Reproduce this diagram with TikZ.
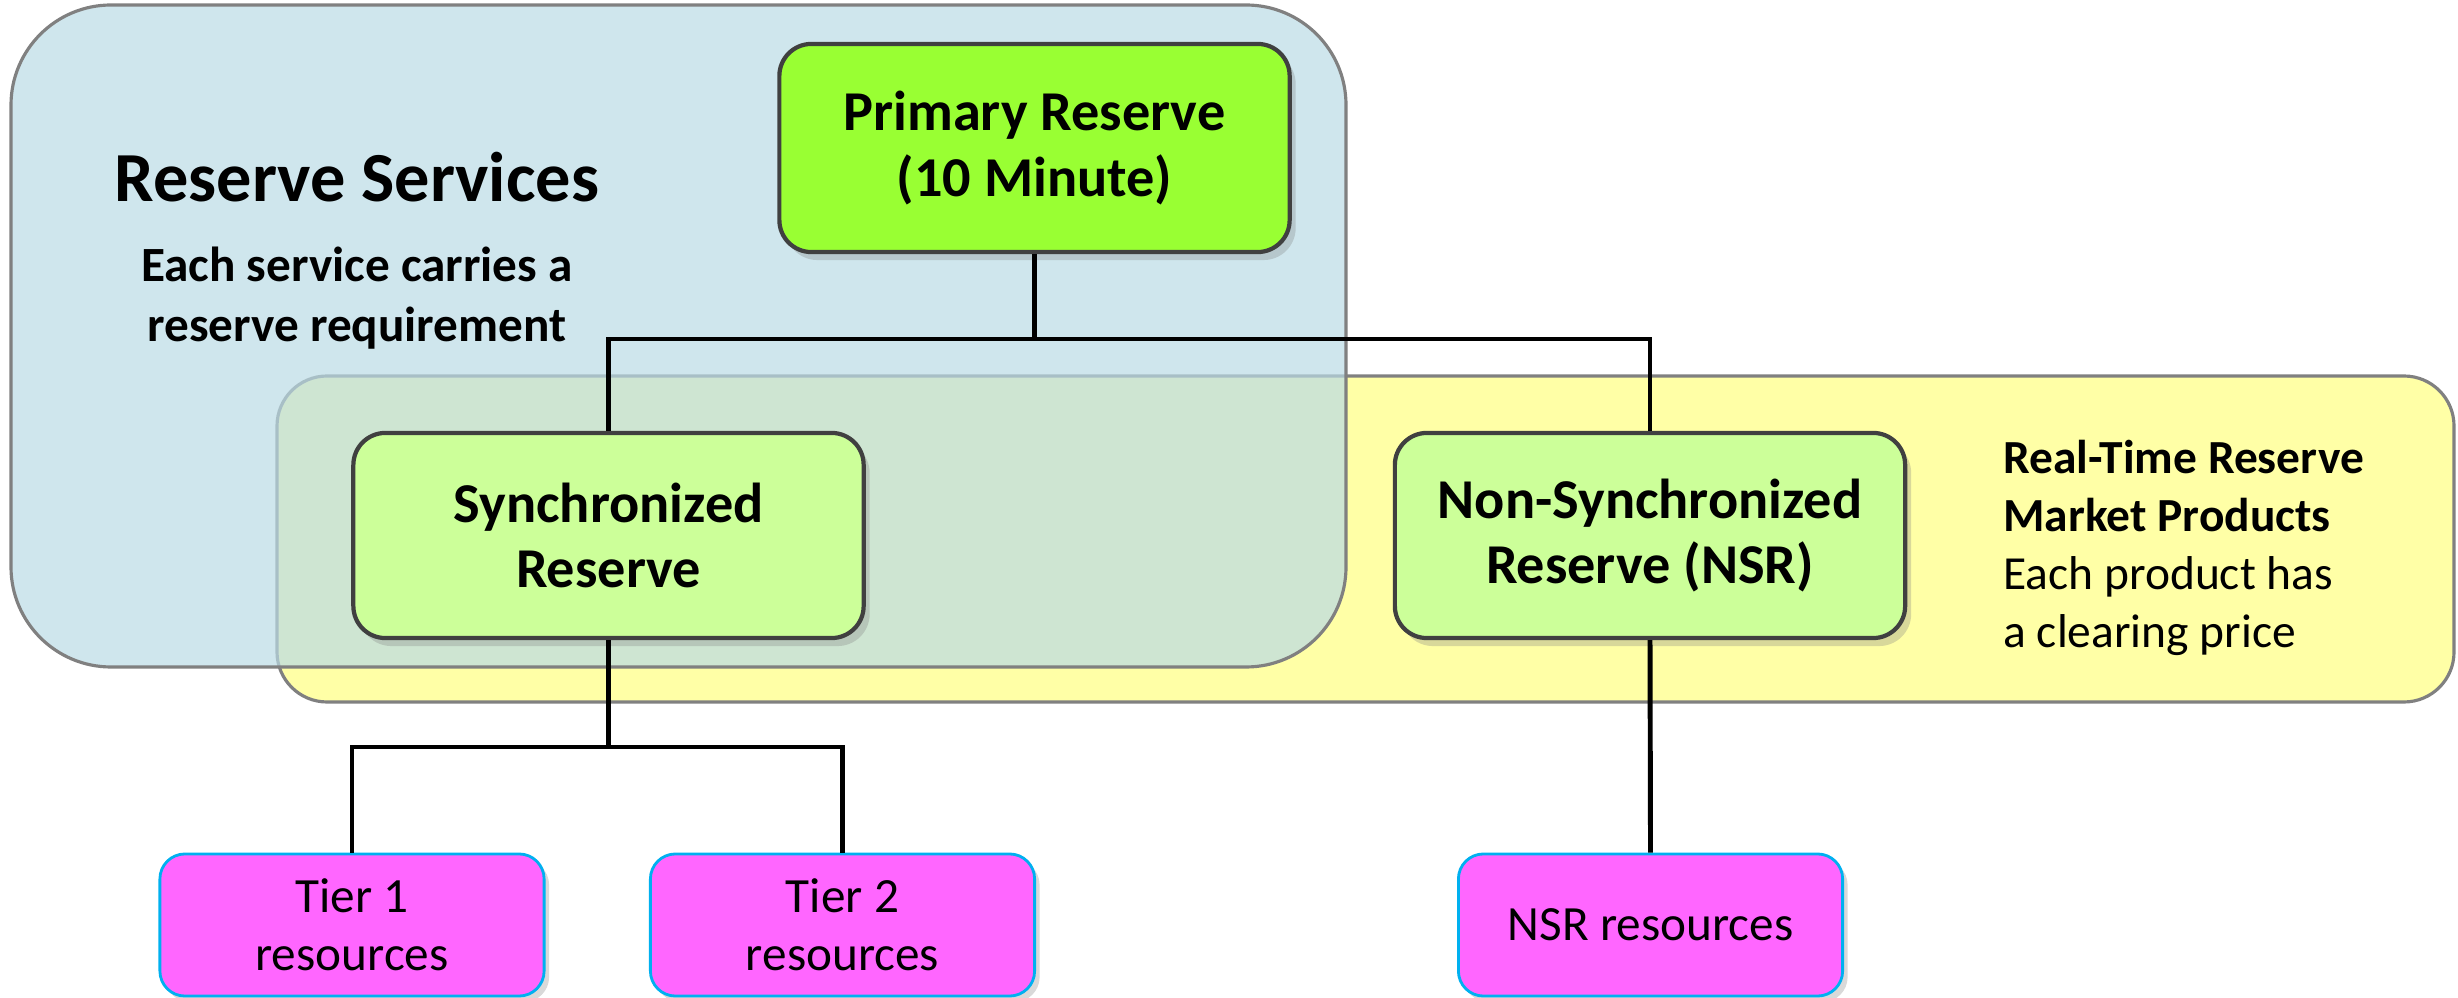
\documentclass[tikz,border=0pt]{standalone}
\usepackage{fontspec}
\setmainfont{Carlito}
\usetikzlibrary{shadows}

\definecolor{svcblue}{RGB}{186,219,229}
\definecolor{mktyellow}{RGB}{255,255,166}
\definecolor{primgreen}{RGB}{153,255,51}
\definecolor{prodgreen}{RGB}{204,255,153}
\definecolor{respink}{RGB}{255,102,255}
\definecolor{resedge}{RGB}{0,176,240}

\tikzset{
  area/.style={draw=black!50, line width=0.9pt},
  prodbox/.style={draw=black!75, line width=1.2pt, rounded corners=0.32cm, fill=prodgreen,
    minimum width=5.1cm, minimum height=2.05cm, inner sep=0pt, align=center,
    font=\fontsize{16}{18.5}\selectfont\bfseries,
    drop shadow={opacity=0.3, shadow xshift=0.6mm, shadow yshift=-0.8mm}},
  resbox/.style={draw=resedge, line width=0.8pt, rounded corners=0.25cm, fill=respink,
    minimum width=3.84cm, minimum height=1.42cm, inner sep=0pt, align=center,
    font=\fontsize{14}{16.5}\selectfont,
    drop shadow={opacity=0.3, shadow xshift=0.5mm, shadow yshift=-0.6mm}},
  link/.style={line width=1.4pt, black}
}

\begin{document}
\begin{tikzpicture}[x=0.01cm, y=-0.01cm]
  \useasboundingbox (0,0) rectangle (2458,998);

  % Background areas
  \draw[area, fill=mktyellow, rounded corners=0.5cm] (277,376) rectangle (2454,702);
  \draw[area, fill=svcblue, fill opacity=0.7, rounded corners=1.0cm] (11,5) rectangle (1346,667);

  % Area labels
  \node[font=\fontsize{20}{24}\selectfont\bfseries] (title) at (357,177) {Reserve Services};
  \node[align=center, font=\fontsize{14}{17}\selectfont\bfseries] (titlenote) at (357,298)
    {Each service carries a\\reserve requirement};
  \node[anchor=west, align=left, font=\fontsize{13.5}{16.5}\selectfont] (mkt) at (1991,548)
    {\textbf{Real-Time Reserve}\\\textbf{Market Products}\\Each product has\\a clearing price};

  % Products
  \node[prodbox, fill=primgreen, minimum height=2.08cm] (prim) at (1034.5,148) {Primary Reserve\\(10 Minute)};
  \node[prodbox] (sync) at (608.5,535.5) {Synchronized\\Reserve};
  \node[prodbox] (nsr) at (1650,535.5) {Non-Synchronized\\Reserve (NSR)};

  % Resources
  \node[resbox] (tier1) at (352,925) {Tier 1\\resources};
  \node[resbox] (tier2) at (842.5,925) {Tier 2\\resources};
  \node[resbox] (nsrres) at (1650.5,925) {NSR resources};

  % Connectors
  \coordinate (topbus) at (1034.5,339);
  \coordinate (syncbus) at (608.5,747);
  \draw[link] (prim.south) -- (topbus);
  \draw[link] (sync.north) |- (topbus) -| (nsr.north);
  \draw[link] (sync.south) -- (syncbus);
  \draw[link] (tier1.north) |- (syncbus) -| (tier2.north);
  \draw[link] (nsr.south) -- (nsrres.north);
\end{tikzpicture}
\end{document}
